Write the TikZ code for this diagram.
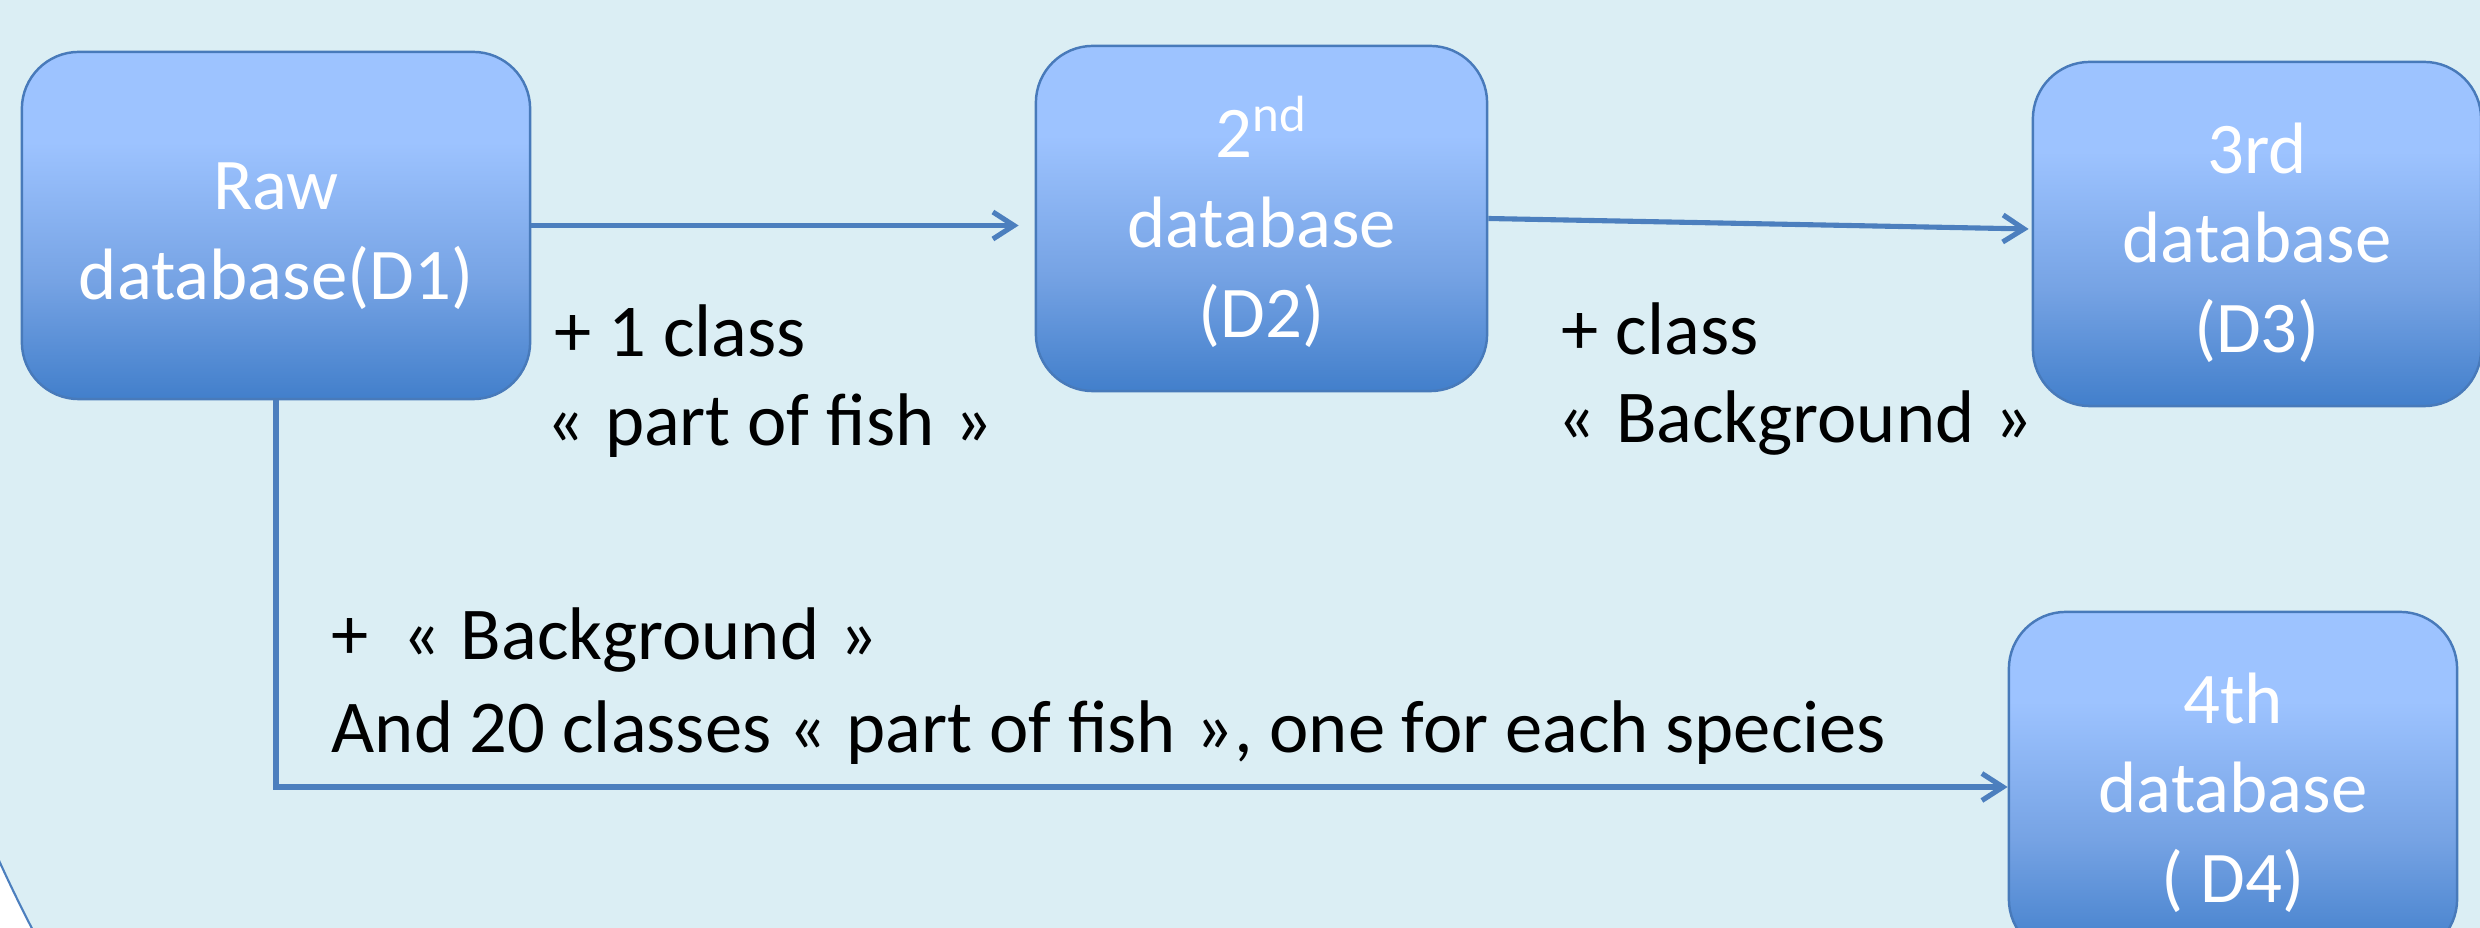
\documentclass[tikz,border=0pt]{standalone}
\usepackage{fontspec}
\setmainfont{Carlito}
\usetikzlibrary{arrows.meta}
\definecolor{bgblue}{HTML}{DBEEF4}
\definecolor{boxtop}{RGB}{157,195,255}
\definecolor{boxmid}{RGB}{118,163,228}
\definecolor{boxbot}{RGB}{66,127,203}
\definecolor{edgeblue}{RGB}{72,122,186}
\definecolor{arrowblue}{RGB}{76,127,190}
\pgfdeclareverticalshading{boxshade}{100bp}{color(0bp)=(boxbot); color(25bp)=(boxbot); color(42bp)=(boxmid); color(62bp)=(boxtop); color(100bp)=(boxtop)}
\newcommand{\gopenq}{«\hspace{0.27em}}
\newcommand{\gcloseq}{\hspace{0.27em}»}
\newcommand{\toprule}{\rule{0pt}{0.68cm}}
\begin{document}
\begin{tikzpicture}[x=0.01cm,y=-0.01cm,
  dbbox/.style={rectangle, rounded corners=0.57cm, draw=edgeblue, line width=0.7pt,
    shade, shading=boxshade, text=white, align=center, inner sep=0pt,
    font=\fontsize{20.7}{25.5}\selectfont},
  lab/.style={anchor=base west, inner sep=0pt, font=\fontsize{21.2}{25}\selectfont, text=black},
  arr/.style={draw=arrowblue, line width=1.45pt,
    -{Straight Barb[length=2.1mm,width=2.7mm,line width=1.45pt]}}]
\useasboundingbox (0,0) rectangle (2480,928);
\fill[white] (0,0) rectangle (2480,928);
\begin{scope}
  \clip (0,0) rectangle (2480,928);
  \filldraw[fill=bgblue, draw=arrowblue, line width=0.6pt] (1366,240) circle (15cm);
\end{scope}
\begin{scope}
  \clip (0,0) rectangle (2480,928);
  \node[dbbox, minimum width=5.08cm, minimum height=3.47cm] (D1) at (276,225.5) {\toprule Raw\\database(D1)};
  \node[dbbox, minimum width=4.51cm, minimum height=3.45cm] (D2) at (1261.5,218.5) {\toprule 2\textsuperscript{nd}\\database\\(D2)};
  \node[dbbox, minimum width=4.48cm, minimum height=3.44cm] (D3) at (2257,234) {\toprule 3rd\\database\\(D3)};
  \node[dbbox, minimum width=4.48cm, minimum height=3.44cm] (D4) at (2233,784) {\toprule 4th\\database\\( D4)};
\end{scope}
\draw[arr] (D1.east) -- ([xshift=-0.16cm]D2.west |- D1.east);
\draw[arr] (D2.east) -- ([xshift=-0.03cm,yshift=0.05cm]D3.west);
\draw[arr] (D1.south) |- ([yshift=-0.03cm]D4.west);
\node[lab] (L1a) at (554,357) {+ 1 class};
\node[lab] (L1b) at (546,446) {\gopenq part of fish\gcloseq};
\node[lab] (L2a) at (1561,355) {+ class};
\node[lab] (L2b) at (1557,443) {\gopenq Background\gcloseq};
\node[lab] (L3a) at (331,660) {+\ \ \gopenq Background\gcloseq};
\node[lab] (L3b) at (331,753) {And 20 classes \gopenq part of fish\gcloseq, one for each species};
\end{tikzpicture}
\end{document}
